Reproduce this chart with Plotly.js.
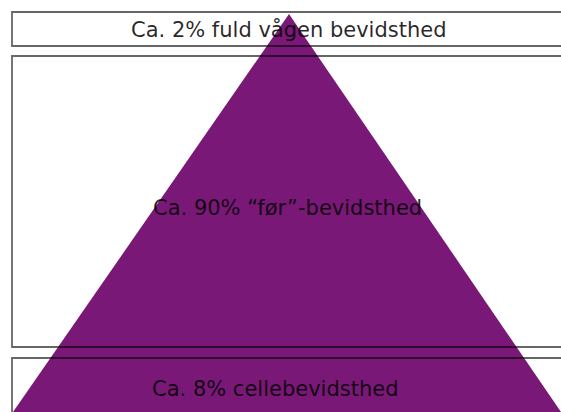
<!DOCTYPE html>
<html>
<head>
<meta charset="utf-8">
<script src="https://cdn.plot.ly/plotly-3.0.1.min.js"></script>
<style>html,body{margin:0;padding:0;background:#fff;}#chart{width:561px;height:412px;}</style>
</head>
<body>
<div id="chart"></div>
<script>
// Levels of consciousness (top to bottom)
const levelLabels = ["Ca. 2% fuld vågen bevidsthed", "Ca. 90% “før”-bevidsthed", "Ca. 8% cellebevidsthed"];
const levelShares = [2, 90, 8];

// Layout geometry (pixels in the 561x412 frame)
const boxTop = [12, 56, 358];
const boxBottom = [46, 347, 420];
const labelX = [289, 287, 275];
const labelY = [29, 208, 389];

const pyramidX = [13, 289, 561, 13];
const pyramidY = [412, 14, 412, 412];

const traces = [{
  type: "scatter",
  mode: "lines",
  x: pyramidX,
  y: pyramidY,
  fill: "toself",
  fillcolor: "#7a1877",
  line: {color: "#7a1877", width: 0},
  hoverinfo: "skip",
  showlegend: false
}];

const shapes = levelLabels.map((_, i) => ({
  type: "rect", xref: "x", yref: "y", layer: "above",
  x0: 12, x1: 600, y0: boxTop[i], y1: boxBottom[i],
  line: {color: "rgba(0,0,0,0.6)", width: 1.8},
  fillcolor: "rgba(0,0,0,0)"
}));

const annotations = levelLabels.map((t, i) => ({
  x: labelX[i], y: labelY[i], xref: "x", yref: "y",
  text: t, showarrow: false,
  font: {family: "DejaVu Sans, Verdana, sans-serif", size: 21, color: "rgba(0,0,0,0.85)"},
  xanchor: "center", yanchor: "middle"
}));

const layout = {
  width: 561, height: 412,
  margin: {l: 0, r: 0, t: 0, b: 0},
  paper_bgcolor: "#ffffff", plot_bgcolor: "#ffffff",
  xaxis: {range: [0, 561], visible: false, fixedrange: true},
  yaxis: {range: [412, 0], visible: false, fixedrange: true},
  shapes: shapes,
  annotations: annotations,
  showlegend: false
};

Plotly.newPlot("chart", traces, layout, {displayModeBar: false, staticPlot: true});
</script>
</body>
</html>
